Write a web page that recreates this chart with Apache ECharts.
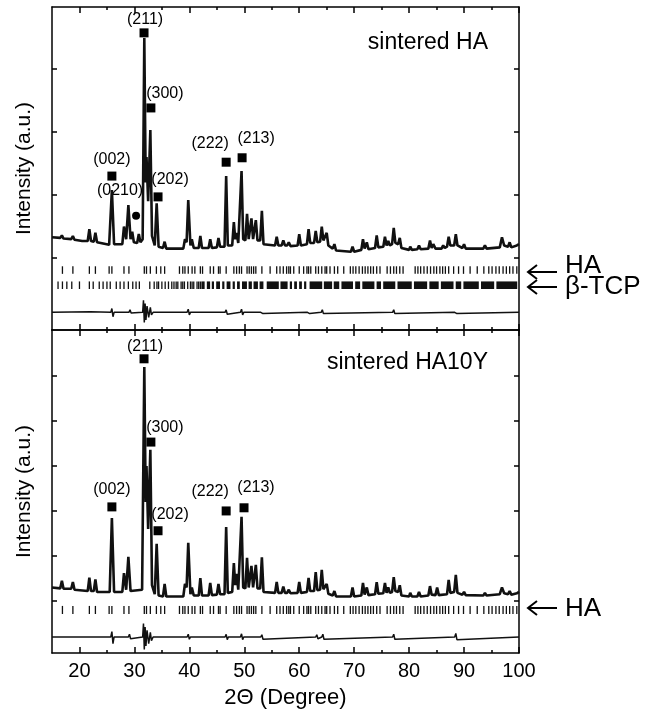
<!DOCTYPE html>
<html lang="en">
<head>
<meta charset="UTF-8">
<title>XRD sintered HA / HA10Y</title>
<style>
  html, body { margin: 0; padding: 0; background: #fff; }
  #chart { width: 654px; height: 714px; }
</style>
</head>
<body>
<div id="chart"></div>
<script src="https://cdn.jsdelivr.net/npm/echarts@6/dist/echarts.min.js"></script>
<script>
// observed profile, sintered HA  [2theta, intensity in tick units]
var haObs = [
  [15, 0.33], [16.5, 0.32], [16.8, 0.36], [17.1, 0.31], [18.5, 0.3], [18.8, 0.35], [19.1, 0.29], [20.5, 0.27],
  [21.5, 0.27], [21.8, 0.46], [22.1, 0.27], [22.6, 0.26], [22.9, 0.4], [23.2, 0.25], [25.4, 0.21], [25.9, 1.08],
  [26.3, 0.22], [27.8, 0.22], [28.1, 0.5], [28.5, 0.3], [28.9, 0.84], [29.3, 0.3], [29.6, 0.42], [29.9, 0.25],
  [30.5, 0.24], [30.8, 0.38], [31.1, 0.25], [31.5, 0.3], [31.8, 3.49], [32.05, 1.2], [32.2, 1.6], [32.5, 0.9],
  [32.9, 2.03], [33.2, 0.35], [33.7, 0.2], [34.05, 0.87], [34.4, 0.18], [35.2, 0.16], [35.5, 0.26], [35.8, 0.15],
  [38.9, 0.15], [39.2, 0.3], [39.5, 0.25], [39.8, 0.92], [40.2, 0.2], [40.45, 0.3], [40.8, 0.16], [41.7, 0.16],
  [42.0, 0.35], [42.3, 0.16], [43.5, 0.16], [43.8, 0.3], [44.1, 0.16], [45.0, 0.17], [45.3, 0.32], [45.6, 0.18],
  [46.4, 0.18], [46.7, 1.3], [47.0, 0.2], [47.8, 0.2], [48.1, 0.57], [48.35, 0.3], [48.6, 0.4], [48.9, 0.24],
  [49.2, 0.25], [49.5, 1.38], [49.8, 0.3], [50.2, 0.28], [50.5, 0.7], [50.8, 0.3], [51.0, 0.3], [51.3, 0.63],
  [51.6, 0.3], [51.8, 0.3], [52.1, 0.6], [52.4, 0.28], [52.9, 0.28], [53.2, 0.75], [53.5, 0.22], [55.6, 0.2],
  [55.9, 0.34], [56.2, 0.2], [56.8, 0.2], [57.1, 0.28], [57.4, 0.2], [57.8, 0.2], [58.1, 0.25], [58.4, 0.19],
  [59.7, 0.2], [60.0, 0.38], [60.3, 0.2], [61.4, 0.22], [61.7, 0.46], [62.0, 0.24], [62.7, 0.24], [63.0, 0.43],
  [63.3, 0.25], [63.8, 0.26], [64.1, 0.5], [64.4, 0.28], [64.7, 0.27], [65.0, 0.4], [65.3, 0.2], [66.1, 0.15],
  [66.4, 0.22], [66.7, 0.12], [69.4, 0.1], [69.7, 0.18], [70.0, 0.1], [71.3, 0.13], [71.6, 0.3], [71.9, 0.15],
  [72.3, 0.25], [72.6, 0.14], [73.8, 0.16], [74.1, 0.36], [74.4, 0.17], [75.3, 0.18], [75.6, 0.34], [75.9, 0.2],
  [76.2, 0.27], [76.5, 0.2], [76.9, 0.22], [77.2, 0.48], [77.5, 0.24], [78.0, 0.22], [78.3, 0.32], [78.6, 0.16],
  [80.0, 0.13], [80.2, 0.18], [80.5, 0.13], [81.5, 0.14], [81.8, 0.2], [82.1, 0.14], [83.5, 0.15], [83.8, 0.28],
  [84.1, 0.16], [84.4, 0.22], [84.8, 0.15], [85.9, 0.15], [86.2, 0.2], [86.5, 0.16], [86.9, 0.18], [87.2, 0.34],
  [87.5, 0.2], [88.2, 0.2], [88.5, 0.38], [88.8, 0.2], [89.7, 0.16], [90.0, 0.22], [90.3, 0.15], [93.5, 0.15],
  [93.8, 0.2], [94.1, 0.15], [96.5, 0.17], [96.9, 0.33], [97.3, 0.2], [98.0, 0.18], [98.3, 0.25], [98.6, 0.17],
  [99.6, 0.2], [100, 0.22]
];

// observed profile, sintered HA10Y
var ha10yObs = [
  [15, 0.3], [16.5, 0.28], [16.8, 0.45], [17.1, 0.27], [18.5, 0.27], [18.8, 0.42], [19.1, 0.25], [21.5, 0.22],
  [21.8, 0.52], [22.1, 0.22], [22.6, 0.22], [22.9, 0.48], [23.2, 0.2], [25.5, 0.2], [25.9, 1.84], [26.3, 0.2],
  [27.8, 0.2], [28.1, 0.62], [28.5, 0.25], [28.9, 0.98], [29.3, 0.22], [31.4, 0.25], [31.8, 5.2], [32.05, 2.2],
  [32.2, 3.0], [32.5, 1.6], [32.9, 3.36], [33.2, 0.35], [33.7, 0.15], [34.05, 1.27], [34.4, 0.12], [35.2, 0.1],
  [35.5, 0.38], [35.8, 0.1], [38.9, 0.1], [39.2, 0.38], [39.5, 0.3], [39.8, 1.29], [40.2, 0.15], [40.45, 0.3],
  [40.8, 0.12], [41.7, 0.12], [42.0, 0.51], [42.3, 0.12], [43.5, 0.12], [43.8, 0.4], [44.1, 0.13], [45.0, 0.14],
  [45.3, 0.38], [45.6, 0.15], [46.4, 0.15], [46.7, 1.64], [47.0, 0.18], [47.8, 0.2], [48.1, 0.84], [48.35, 0.35],
  [48.6, 0.6], [48.9, 0.25], [49.2, 0.25], [49.5, 1.87], [49.8, 0.3], [50.2, 0.28], [50.5, 0.96], [50.8, 0.3],
  [51.0, 0.3], [51.3, 0.78], [51.6, 0.3], [51.8, 0.3], [52.1, 0.8], [52.4, 0.28], [52.9, 0.28], [53.2, 0.97],
  [53.5, 0.2], [55.6, 0.18], [55.9, 0.42], [56.2, 0.18], [56.8, 0.18], [57.1, 0.32], [57.4, 0.18], [57.8, 0.18],
  [58.1, 0.25], [58.4, 0.17], [59.7, 0.18], [60.0, 0.42], [60.3, 0.18], [61.4, 0.2], [61.7, 0.51], [62.0, 0.22],
  [62.7, 0.22], [63.0, 0.64], [63.3, 0.24], [63.8, 0.25], [64.1, 0.69], [64.4, 0.26], [64.7, 0.25], [65.0, 0.38],
  [65.3, 0.16], [66.1, 0.12], [66.4, 0.22], [66.7, 0.1], [69.4, 0.1], [69.7, 0.3], [70.0, 0.1], [71.3, 0.12],
  [71.6, 0.4], [71.9, 0.14], [72.3, 0.3], [72.6, 0.13], [73.8, 0.15], [74.1, 0.42], [74.4, 0.16], [75.3, 0.17],
  [75.6, 0.4], [75.9, 0.18], [76.2, 0.3], [76.5, 0.18], [76.9, 0.2], [77.2, 0.53], [77.5, 0.22], [78.0, 0.2],
  [78.3, 0.35], [78.6, 0.12], [80.0, 0.1], [80.2, 0.18], [80.5, 0.1], [81.5, 0.1], [81.8, 0.2], [82.1, 0.1],
  [83.5, 0.12], [83.8, 0.33], [84.1, 0.14], [84.8, 0.13], [85.1, 0.3], [85.4, 0.13], [86.9, 0.15], [87.2, 0.47],
  [87.5, 0.18], [88.2, 0.2], [88.5, 0.58], [88.8, 0.18], [89.7, 0.14], [90.0, 0.2], [90.3, 0.13], [93.5, 0.12],
  [93.8, 0.18], [94.1, 0.12], [96.5, 0.15], [96.9, 0.3], [97.3, 0.17], [98.0, 0.15], [98.3, 0.22], [98.6, 0.14],
  [99.6, 0.17], [100, 0.2]
];

// difference curves (obs - calc), offset below the patterns
var haDiff = [
  [15, -0.86], [22, -0.85], [22.2, -0.88], [25.7, -0.86], [25.9, -0.8], [26.1, -0.93], [26.3, -0.86], [29.0, -0.86],
  [29.2, -0.82], [29.4, -0.87], [31.5, -0.86], [31.65, -0.67], [31.8, -1.02], [31.95, -0.72], [32.1, -0.98],
  [32.3, -0.76], [32.6, -0.94], [32.9, -0.78], [33.1, -0.9], [33.4, -0.86], [39.6, -0.86], [39.8, -0.81],
  [40.0, -0.9], [40.2, -0.86], [46.5, -0.86], [46.7, -0.82], [46.9, -0.89], [47.1, -0.86], [49.3, -0.86],
  [49.5, -0.81], [49.7, -0.9], [49.9, -0.86], [53.0, -0.86], [53.2, -0.83], [53.4, -0.88], [61.5, -0.86],
  [61.7, -0.83], [61.9, -0.88], [64.0, -0.86], [64.2, -0.82], [64.4, -0.88], [77.0, -0.86], [77.2, -0.82],
  [77.4, -0.88], [88.3, -0.86], [88.5, -0.83], [88.7, -0.88], [100, -0.86]
];
var ha10yDiff = [
  [15, -0.8], [25.7, -0.8], [25.9, -0.68], [26.1, -0.95], [26.3, -0.8], [28.9, -0.8], [29.1, -0.74],
  [29.3, -0.84], [31.5, -0.8], [31.65, -0.5], [31.8, -1.08], [31.95, -0.58], [32.1, -1.0], [32.3, -0.65],
  [32.6, -0.95], [32.9, -0.7], [33.1, -0.88], [33.4, -0.8], [39.6, -0.8], [39.8, -0.74], [40.0, -0.85],
  [40.2, -0.8], [46.5, -0.8], [46.7, -0.74], [46.9, -0.86], [47.1, -0.8], [49.3, -0.8], [49.5, -0.73],
  [49.7, -0.86], [49.9, -0.8], [53.0, -0.8], [53.2, -0.75], [53.4, -0.85], [63.0, -0.8], [63.2, -0.75],
  [63.4, -0.84], [64.1, -0.8], [64.3, -0.74], [64.5, -0.85], [77.0, -0.8], [77.2, -0.74], [77.4, -0.85],
  [88.3, -0.8], [88.5, -0.72], [88.7, -0.86], [100, -0.8]
];

// reflection positions (2theta)
var haRefl = [
  16.9, 18.8, 21.8, 22.9, 25.4, 25.9, 28.1, 29.0, 31.8, 32.2, 32.9, 34.0, 34.8, 35.5, 38.2, 38.8, 39.2, 39.8,
  40.5, 41.0, 42.0, 42.4, 43.8, 44.4, 45.3, 45.6, 46.7, 48.1, 48.6, 49.1, 49.5, 50.5, 50.9, 51.3, 51.7, 52.1,
  53.2, 54.7, 55.9, 56.5, 57.1, 57.7, 58.1, 58.4, 59.0, 60.0, 60.8, 61.4, 61.7, 62.1, 63.0, 63.5, 64.1, 64.7,
  65.0, 65.6, 66.4, 67.0, 68.1, 69.3, 69.8, 70.3, 70.9, 71.5, 72.0, 72.5, 73.0, 73.5, 74.1, 74.7, 76.0, 76.6,
  77.2, 77.7, 78.3, 78.9, 81.1, 81.6, 82.1, 82.7, 83.3, 83.9, 84.5, 85.0, 85.6, 86.1, 86.6, 87.2, 88.1, 89.0,
  89.9, 91.1, 92.4, 93.6, 94.5, 95.1, 95.8, 96.4, 97.1, 97.7, 98.3, 98.9, 99.6
];
var tcpRefl = [
  16.1, 16.9, 17.7, 18.6, 20.0, 21.8, 22.5, 23.6, 24.3, 25.0, 25.6, 26.7, 27.4, 28.1, 28.9, 29.7, 30.3, 30.9,
  32.8, 33.6, 34.1, 34.4, 35.0, 35.6, 36.2, 36.8, 37.2, 37.6, 37.9, 38.5, 38.8, 39.1, 39.7, 40.2, 40.5, 40.8,
  41.4, 41.7, 42.0
];
var tcpBands = [
  [42.3, 42.9], [43.3, 43.9], [44.2, 44.6], [45.0, 45.7], [46.1, 46.5], [46.9, 47.6], [48.0, 48.4], [48.8, 49.3],
  [49.7, 50.6], [50.9, 51.5], [51.8, 52.6], [52.9, 53.6], [54.2, 56.4], [56.7, 58.0], [58.4, 58.8], [59.2, 59.7],
  [60.1, 60.6], [61.0, 61.4], [62.0, 64.3], [64.6, 66.1], [66.4, 67.4], [67.8, 69.9], [70.3, 71.2], [71.6, 73.8],
  [74.2, 75.0], [75.4, 77.6], [78.0, 80.6], [81.0, 83.4], [83.8, 85.5], [85.9, 88.2], [88.6, 89.6], [90.0, 92.8],
  [93.2, 95.6], [96.0, 99.8]
];

// hkl markers
var hklLabels = ['(002)', '(211)', '(300)', '(202)', '(222)', '(213)'];
var haMarkX = [25.9, 31.75, 33.0, 34.3, 46.7, 49.6];
var haMarkY = [1.30, 3.57, 2.38, 0.97, 1.52, 1.59];
var ha10yMarkX = [25.9, 31.75, 33.0, 34.3, 46.7, 49.95];
var ha10yMarkY = [2.09, 5.38, 3.53, 1.56, 2.0, 2.07];
var tcpMark = [30.3, 0.67];
var tcpLabel = '(0210)';

var xMajor = [20, 30, 40, 50, 60, 70, 80, 90, 100];
var xMinor = [25, 35, 45, 55, 65, 75, 85, 95];

var FONT = 'Liberation Sans, Arial, sans-serif';
var haLabelOffset = [[0, 1], [1, 4], [14, 3], [12, 0], [-16, -1], [14, -2]];
var ha10yLabelOffset = [[0, 0], [1, 5], [14, 3], [12, 1], [-16, -2], [12, -3]];

function xAx(grid, pos, ticks, len, main) {
  return {
    type: 'value', gridIndex: grid, min: 15, max: 100, position: pos,
    axisLine: { show: main, onZero: false, lineStyle: { color: '#000', width: 1.5 } },
    axisTick: { inside: true, length: len, customValues: ticks, lineStyle: { color: '#000', width: 1.5 } },
    axisLabel: { show: false },
    splitLine: { show: false }
  };
}
function yAx(grid, pos, min, max, ticks) {
  return {
    type: 'value', gridIndex: grid, min: min, max: max, position: pos,
    axisLine: { show: true, onZero: false, lineStyle: { color: '#000', width: 1.5 } },
    axisTick: { inside: true, length: 5, customValues: ticks, lineStyle: { color: '#000', width: 1.5 } },
    axisLabel: { show: false },
    splitLine: { show: false }
  };
}

var xAxes = [];
[0, 1].forEach(function (g) {
  xAxes.push(xAx(g, 'bottom', xMajor, 6, true));
  xAxes.push(xAx(g, 'bottom', xMinor, 3, false));
  xAxes.push(xAx(g, 'top', xMajor, 6, true));
  xAxes.push(xAx(g, 'top', xMinor, 3, false));
});
// tick labels + title on the bottom panel
xAxes[4].axisLabel = { show: true, customValues: xMajor, color: '#000', fontSize: 20, fontFamily: FONT, margin: 8 };
xAxes[4].name = '2\u0398 (Degree)';
xAxes[4].nameLocation = 'middle';
xAxes[4].nameGap = 34;
xAxes[4].nameTextStyle = { color: '#000', fontSize: 22, fontFamily: FONT };

var yAxes = [
  yAx(0, 'left', -1.14, 3.98, [0, 1, 2, 3]),
  yAx(0, 'right', -1.14, 3.98, [0, 1, 2, 3]),
  yAx(1, 'left', -1.156, 6.02, [0, 1, 2, 3, 4, 5]),
  yAx(1, 'right', -1.156, 6.02, [0, 1, 2, 3, 4, 5])
];
[0, 2].forEach(function (i) {
  yAxes[i].name = 'Intensity (a.u.)';
  yAxes[i].nameLocation = 'middle';
  yAxes[i].nameGap = 17;
  yAxes[i].nameTextStyle = { color: '#000', fontSize: 21, fontFamily: FONT };
});

function tickRender(params, api) {
  var a = api.coord([api.value(0), api.value(2)]);
  var b = api.coord([api.value(1), api.value(3)]);
  var w = Math.max(1.3, b[0] - a[0]);
  return { type: 'rect', shape: { x: a[0] - 0.65, y: b[1], width: w, height: a[1] - b[1] }, style: { fill: '#111' } };
}
function tickSeries(xi, yi, items) {
  return {
    type: 'custom', xAxisIndex: xi, yAxisIndex: yi, renderItem: tickRender,
    encode: { x: [0, 1], y: [2, 3] }, data: items, silent: true
  };
}
function obsSeries(xi, yi, data) {
  return {
    type: 'line', xAxisIndex: xi, yAxisIndex: yi, data: data, showSymbol: false,
    lineStyle: { color: '#111', width: 2.6 }, silent: true
  };
}
function diffSeries(xi, yi, data) {
  return {
    type: 'line', xAxisIndex: xi, yAxisIndex: yi, data: data, showSymbol: false,
    lineStyle: { color: '#111', width: 1.5 }, silent: true
  };
}
function markSeries(xi, yi, xs, ys, offs) {
  return {
    type: 'scatter', xAxisIndex: xi, yAxisIndex: yi, symbol: 'rect', symbolSize: 9,
    itemStyle: { color: '#000', opacity: 1 }, silent: true,
    data: xs.map(function (x, i) {
      return {
        value: [x, ys[i]],
        label: { show: true, position: 'top', offset: offs[i], formatter: hklLabels[i] }
      };
    }),
    label: { color: '#000', fontSize: 16, fontFamily: FONT }
  };
}

var haRows0 = haRefl.map(function (p) { return [p, p, -0.25, -0.13]; });
var tcpRows = tcpRefl.map(function (p) { return [p, p, -0.49, -0.37]; })
  .concat(tcpBands.map(function (b) { return [b[0], b[1], -0.49, -0.37]; }));
var haRows1 = haRefl.map(function (p) { return [p, p, -0.29, -0.11]; });

var series = [
  obsSeries(0, 0, haObs),
  diffSeries(0, 0, haDiff),
  tickSeries(0, 0, haRows0),
  tickSeries(0, 0, tcpRows),
  markSeries(0, 0, haMarkX, haMarkY, haLabelOffset),
  {
    type: 'scatter', xAxisIndex: 0, yAxisIndex: 0, symbol: 'circle', symbolSize: 8,
    itemStyle: { color: '#000', opacity: 1 }, silent: true,
    data: [{ value: tcpMark, label: { show: true, position: 'top', offset: [-16, -8], formatter: tcpLabel } }],
    label: { color: '#000', fontSize: 16, fontFamily: FONT }
  },
  obsSeries(4, 2, ha10yObs),
  diffSeries(4, 2, ha10yDiff),
  tickSeries(4, 2, haRows1),
  markSeries(4, 2, ha10yMarkX, ha10yMarkY, ha10yLabelOffset)
];

function arrow(y) {
  return [
    { type: 'polyline', shape: { points: [[557, y], [528, y]] }, style: { stroke: '#000', lineWidth: 2, fill: null } },
    { type: 'polyline', shape: { points: [[537, y - 7], [528, y], [537, y + 7]] }, style: { stroke: '#000', lineWidth: 2, fill: null } }
  ];
}
function txt(x, y, s, size, align) {
  return {
    type: 'text', x: x, y: y,
    style: { text: s, fill: '#000', fontSize: size, fontFamily: FONT, align: align, verticalAlign: 'middle' }
  };
}

var graphics = [].concat(
  arrow(272), arrow(287), arrow(608),
  [
    txt(565, 266, 'HA', 26, 'left'),
    txt(565, 287, '\u03b2-TCP', 26, 'left'),
    txt(565, 609, 'HA', 26, 'left'),
    txt(488, 43, 'sintered HA', 23, 'right'),
    txt(488, 363, 'sintered HA10Y', 23, 'right')
  ]
);

var chart = echarts.init(document.getElementById('chart'), null, { renderer: 'canvas' });
chart.setOption({
  animation: false,
  backgroundColor: '#fff',
  grid: [
    { left: 52, right: 135, top: 7, height: 323 },
    { left: 52, right: 135, top: 330, height: 323 }
  ],
  xAxis: xAxes,
  yAxis: yAxes,
  series: series,
  graphic: graphics
});
</script>
</body>
</html>
